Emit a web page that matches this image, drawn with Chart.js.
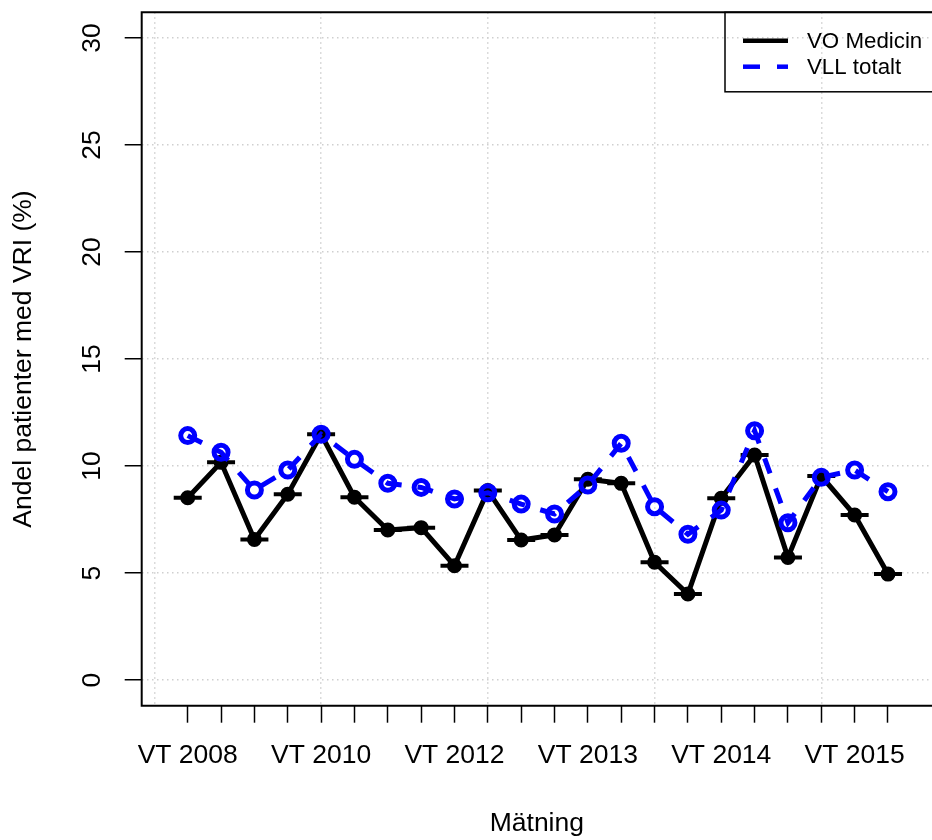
<!DOCTYPE html>
<html>
<head>
<meta charset="utf-8">
<script src="https://cdn.jsdelivr.net/npm/chart.js@4.4.1/dist/chart.umd.min.js"></script>
<style>
  html, body { margin: 0; padding: 0; background: #fff; }
</style>
</head>
<body>
<canvas id="chart" width="932" height="840"></canvas>
<script>
// measurement labels (only every 4th one is printed on the axis)
const measureLabels = [
  "VT 2008", "", "", "", "VT 2010", "", "", "", "VT 2012", "", "", "",
  "VT 2013", "", "", "", "VT 2014", "", "", "", "VT 2015", ""
];
const voMedicin = [8.52, 10.17, 6.57, 8.68, 11.48, 8.54, 7.01, 7.12, 5.34, 8.85, 6.54,
  6.78, 9.38, 9.19, 5.50, 4.02, 8.49, 10.51, 5.73, 9.53, 7.71, 4.95];
const vllTotalt = [11.42, 10.64, 8.88, 9.81, 11.48, 10.31, 9.19, 9.00, 8.46, 8.75, 8.22,
  7.76, 9.11, 11.06, 8.10, 6.81, 7.94, 11.65, 7.35, 9.47, 9.81, 8.80];
const yTicks = [0, 5, 10, 15, 20, 25, 30];
const xGridLines = [0, 5, 10, 15, 20];
const seriesNames = ["VO Medicin", "VLL totalt"];

const FONT = '"Liberation Sans", Arial, Helvetica, sans-serif';
const ctx = document.getElementById("chart");

function toPoints(values) {
  return values.map((v, i) => ({ x: i + 1, y: v }));
}

function noPadding(axis) {
  axis.paddingTop = 0;
  axis.paddingBottom = 0;
  axis.paddingLeft = 0;
  axis.paddingRight = 0;
}

// R style box (left, top, bottom) plus legend
const boxAndLegend = {
  id: "boxAndLegend",
  afterDraw(chart) {
    const c = chart.ctx;
    const a = chart.chartArea;
    c.save();
    c.strokeStyle = "#000";
    c.lineWidth = 2;
    c.beginPath();
    c.moveTo(a.right + 5, a.top);
    c.lineTo(a.left, a.top);
    c.lineTo(a.left, a.bottom);
    c.lineTo(a.right + 5, a.bottom);
    c.stroke();

    // legend
    const lx = 725, ly = a.top;
    c.lineWidth = 1.5;
    c.strokeRect(lx, ly, 260, 79.5);

    c.lineWidth = 4.5;
    c.strokeStyle = "#000";
    c.beginPath();
    c.moveTo(743, 40.7);
    c.lineTo(788, 40.7);
    c.stroke();

    c.strokeStyle = "#0000FF";
    c.setLineDash([17, 17]);
    c.beginPath();
    c.moveTo(743, 66.7);
    c.lineTo(788, 66.7);
    c.stroke();
    c.setLineDash([]);

    c.fillStyle = "#000";
    c.font = "22.3px " + FONT;
    c.textBaseline = "middle";
    c.textAlign = "left";
    c.fillText(seriesNames[0], 807, 41.5);
    c.fillText(seriesNames[1], 807, 67.5);
    c.restore();
  }
};

const chart = new Chart(ctx, {
  type: "line",
  data: {
    datasets: [
      {
        label: seriesNames[1],
        data: toPoints(vllTotalt),
        borderColor: "#0000FF",
        borderWidth: 5,
        borderDash: [16, 16],
        pointStyle: "circle",
        pointRadius: 7,
        pointBorderWidth: 5,
        pointBorderColor: "#0000FF",
        pointBackgroundColor: "rgba(0,0,0,0)",
        order: 0,
      },
      {
        label: "bars",
        data: toPoints(voMedicin),
        showLine: false,
        pointStyle: "line",
        pointRadius: 14,
        pointBorderWidth: 4,
        pointBorderColor: "#000",
        order: 1,
      },
      {
        label: seriesNames[0],
        data: toPoints(voMedicin),
        borderColor: "#000",
        borderWidth: 5,
        pointStyle: "circle",
        pointRadius: 6.5,
        pointBorderWidth: 2,
        pointBorderColor: "#000",
        pointBackgroundColor: "#000",
        order: 2,
      },
    ],
  },
  options: {
    responsive: false,
    animation: false,
    devicePixelRatio: 1,
    layout: { autoPadding: false, padding: { top: 12.3, right: 0, bottom: 0, left: 0 } },
    elements: { line: { tension: 0 } },
    plugins: {
      legend: { display: false },
      tooltip: { enabled: false },
    },
    scales: {
      x: {
        type: "linear",
        position: "bottom",
        min: -0.38,
        max: 23.32,
        afterBuildTicks: (axis) => {
          axis.ticks = measureLabels.map((_, i) => ({ value: i + 1 }));
        },
        afterFit: (axis) => {
          axis.height = 134.3;
          noPadding(axis);
        },
        ticks: {
          autoSkip: false,
          maxRotation: 0,
          minRotation: 0,
          padding: 17,
          color: "#000",
          font: { family: FONT, size: 26.5 },
          callback: (value) => measureLabels[value - 1] || "",
        },
        grid: {
          drawOnChartArea: false,
          drawTicks: true,
          tickLength: 17,
          tickColor: "#000",
          tickWidth: 1.5,
          tickBorderDash: [],
        },
        border: { display: false },
        title: {
          display: true,
          text: "Mätning",
          color: "#000",
          font: { family: FONT, size: 26.5 },
          padding: { top: 0, bottom: 0 },
        },
      },
      xGrid: {
        type: "linear",
        position: "bottom",
        min: -0.38,
        max: 23.32,
        afterBuildTicks: (axis) => {
          axis.ticks = xGridLines.map((v) => ({ value: v }));
        },
        afterFit: (axis) => {
          axis.height = 0;
          noPadding(axis);
        },
        ticks: { display: false },
        grid: {
          drawOnChartArea: true,
          drawTicks: false,
          color: "#CFCFCF",
          lineWidth: 1.5,
          borderDash: [1.5, 3.5],
        },
        border: { display: false, dash: [1.5, 3.5] },
      },
      y: {
        type: "linear",
        position: "left",
        min: -1.2,
        max: 31.2,
        afterBuildTicks: (axis) => {
          axis.ticks = yTicks.map((v) => ({ value: v }));
        },
        afterFit: (axis) => {
          axis.width = 141.7;
          noPadding(axis);
        },
        ticks: {
          minRotation: 90,
          maxRotation: 90,
          crossAlign: "center",
          padding: 17.6,
          color: "#000",
          font: { family: FONT, size: 26.5 },
        },
        grid: {
          color: "#CFCFCF",
          lineWidth: 1.5,
          borderDash: [1.5, 3.5],
          tickLength: 17,
          tickColor: "#000",
          tickWidth: 1.5,
          tickBorderDash: [],
        },
        border: { display: false, dash: [1.5, 3.5] },
        title: {
          display: true,
          text: "Andel patienter med VRI (%)",
          color: "#000",
          font: { family: FONT, size: 26.5 },
          padding: { top: 8, bottom: 0 },
        },
      },
    },
  },
  plugins: [boxAndLegend],
});
</script>
</body>
</html>
